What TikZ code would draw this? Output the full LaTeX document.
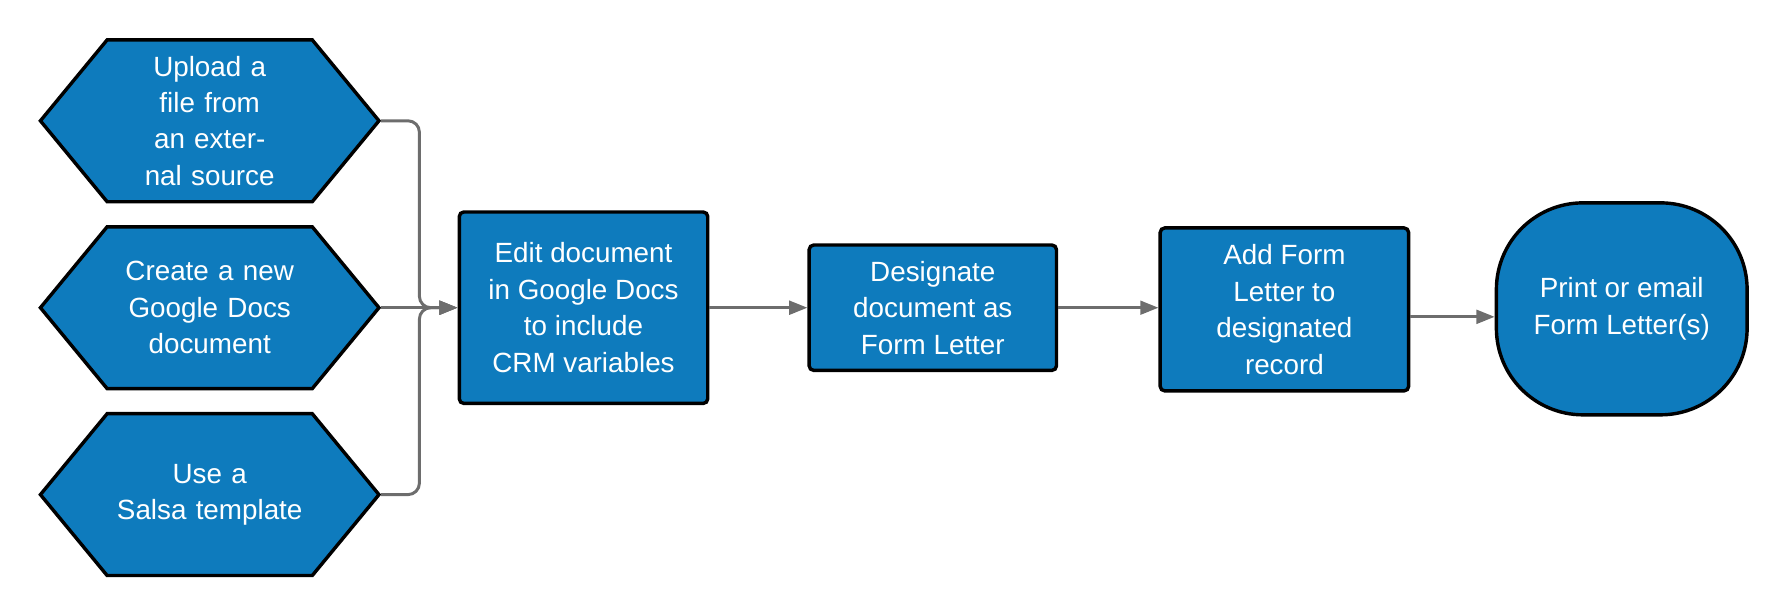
\documentclass[tikz,border=0pt]{standalone}
\usepackage{fontspec}
\setmainfont{Liberation Sans}
\usetikzlibrary{shapes.symbols,arrows.meta}
\definecolor{fillb}{HTML}{0E7BBD}
\definecolor{arr}{HTML}{6D6D6D}
\begin{document}
\begin{tikzpicture}[x=0.5pt,y=-0.5pt,
  box/.style={draw=black,line width=1.5pt,fill=fillb,text=white,align=center,font=\fontsize{12.2}{16}\selectfont,inner sep=0},
  hex/.style={box,signal,signal to=west and east,signal pointer angle=101,minimum width=147pt,minimum height=71pt,text width=90pt},
  rect/.style={box,rounded corners=2pt},
  conn/.style={draw=arr,line width=1.3pt,-{Triangle[length=8pt,width=6pt]},rounded corners=5pt}]
\useasboundingbox (0,0) rectangle (1568,540);
\node[hex] (h1) at (184,106) {Upload a file from\\an external source};
\node[hex] (h2) at (184,270) {Create a new\\Google Docs\\document};
\node[hex] (h3) at (184,434) {Use a\\Salsa template};
\node[rect,minimum width=109pt,minimum height=84pt] (r1) at (512,270) {Edit document\\in Google Docs\\to include\\CRM variables};
\node[rect,minimum width=108.5pt,minimum height=55pt] (r2) at (818.5,270) {Designate\\document as\\Form Letter};
\node[rect,minimum width=109pt,minimum height=71.5pt] (r3) at (1127,271.5) {Add Form\\Letter to\\designated\\record};
\node[box,rounded corners=38pt,minimum width=110pt,minimum height=93pt] (e) at (1423,271) {Print or email\\Form Letter(s)};
\coordinate (j) at (368,270);
\draw[conn] (h1.east) -| (j) -- (r1.west);
\draw[conn] (h3.east) -| (j) -- (r1.west);
\draw[conn] (h2.east) -- (r1.west);
\draw[conn] (r1.east) -- (r2.west);
\draw[conn] (r2.east) -- (r3.west |- r2.east);
\draw[conn] (r3.east |- 0,278) -- (e.west |- 0,278);
\end{tikzpicture}
\end{document}
